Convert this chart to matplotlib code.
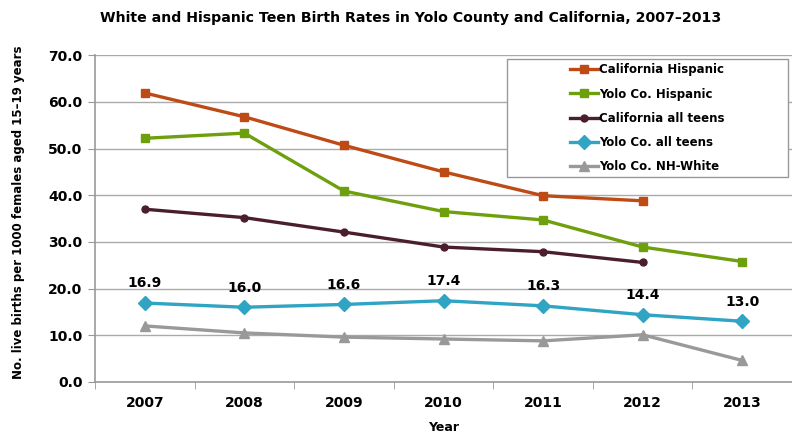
import numpy as np
import matplotlib.pyplot as plt
from matplotlib.patches import Rectangle

years = ['2007', '2008', '2009', '2010', '2011', '2012', '2013']
ca_hispanic = [61.9, 56.8, 50.7, 45.0, 39.9, 38.8]
yolo_hispanic = [52.2, 53.3, 40.9, 36.5, 34.7, 28.9, 25.8]
ca_all = [37.0, 35.2, 32.1, 28.9, 27.9, 25.6]
yolo_all = [16.9, 16.0, 16.6, 17.4, 16.3, 14.4, 13.0]
yolo_white = [12.0, 10.5, 9.6, 9.2, 8.8, 10.1, 4.6]

plt.rcParams['font.family'] = ['DejaVu Sans']

fig = plt.figure(figsize=(7.92, 4.38), dpi=100)
ax = fig.add_axes([0.12, 0.128, 0.88, 0.746])

x = np.arange(len(years))
series = [
    (ca_hispanic, 'California Hispanic', '#BE4B16', 's', 6),
    (yolo_hispanic, 'Yolo Co. Hispanic', '#6E9F0C', 's', 6),
    (ca_all, 'California all teens', '#4A1F2B', 'o', 5),
    (yolo_all, 'Yolo Co. all teens', '#2FA4C3', 'D', 7),
    (yolo_white, 'Yolo Co. NH-White', '#999999', '^', 7),
]
for vals, name, col, mk, ms in series:
    ax.plot(x[:len(vals)], vals, color=col, marker=mk, markersize=ms,
            linewidth=2.4, label=name, zorder=3)

for xi, v in zip(x, yolo_all):
    ax.text(xi, v + 2.7, f'{v:.1f}', ha='center', va='bottom',
            fontsize=10, fontweight='bold')

ax.set_xlim(-0.5, 6.5)
ax.set_ylim(0, 70)
ax.set_yticks(np.arange(0, 71, 10))
ax.set_yticklabels([f'{v:.1f}' for v in np.arange(0, 71, 10)],
                   fontsize=10, fontweight='bold')
ax.set_xticks(x)
ax.set_xticklabels(years, fontsize=10, fontweight='bold')
ax.set_xticks(np.arange(-0.5, 6.6, 1), minor=True)
ax.tick_params(axis='x', which='major', length=0, pad=10)
ax.tick_params(axis='x', which='minor', length=5, color='#999999')
ax.tick_params(axis='y', length=5, color='#999999', pad=4)

ax.grid(axis='y', color='#AAAAAA', linewidth=1)
ax.set_axisbelow(True)
for s in ['top', 'right']:
    ax.spines[s].set_visible(False)
for s in ['left', 'bottom']:
    ax.spines[s].set_color('#999999')
    ax.spines[s].set_linewidth(1.2)

ax.set_xlabel('Year', fontsize=9, fontweight='bold', labelpad=8)
ax.set_ylabel('No. live births per 1000 females aged 15\u201319 years',
              fontsize=8.5, fontweight='bold')
ax.yaxis.set_label_coords(-0.101, 0.52)
fig.suptitle('White and Hispanic Teen Birth Rates in Yolo County and California, 2007\u20132013',
             x=0.518, y=0.975, fontsize=10.2, fontweight='bold')

# legend box drawn separately so the entries sit centred in a wide frame
ax.add_patch(Rectangle((0.591, 0.627), 0.403, 0.361, transform=ax.transAxes,
                       facecolor='white', edgecolor='#999999', linewidth=1,
                       zorder=4, clip_on=False))
leg = ax.legend(loc='center', bbox_to_anchor=(0.7925, 0.807), frameon=False,
                prop={'size': 8.5, 'weight': 'bold'}, labelspacing=0.95,
                handlelength=2.4, handletextpad=0.1, borderpad=0)
leg.set_zorder(5)

fig.savefig('out.png', dpi=100)
